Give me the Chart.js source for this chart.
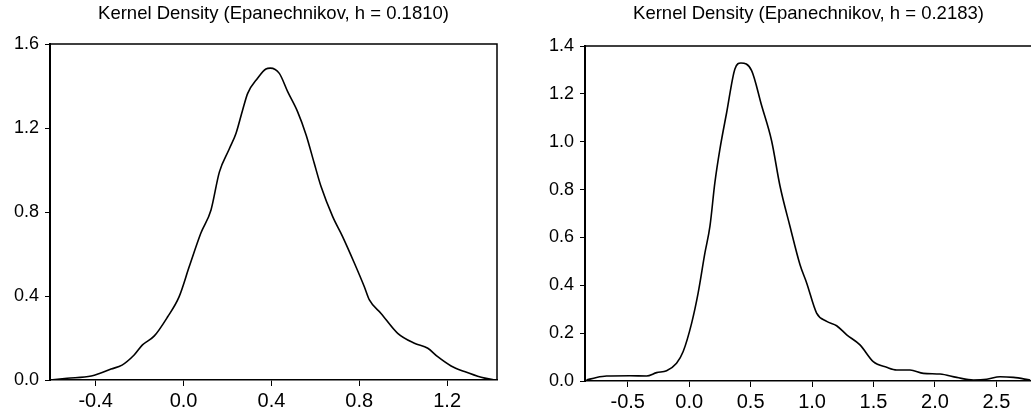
<!DOCTYPE html>
<html>
<head>
<meta charset="utf-8">
<script src="https://cdn.jsdelivr.net/npm/chart.js@4.4.1/dist/chart.umd.min.js"></script>
<style>
  html, body { margin: 0; padding: 0; background: #fff; overflow: hidden; }
  #wrap { position: relative; width: 1031px; height: 415px; overflow: hidden; background: #fff; }
  canvas { position: absolute; top: 0; }
  #c1 { left: 0px; }
  #c2 { left: 535px; }
</style>
</head>
<body>
<div id="wrap">
  <canvas id="c1" width="515" height="415"></canvas>
  <canvas id="c2" width="515" height="415"></canvas>
</div>
<script>
// ---- Left panel data ----
const leftTitle = "Kernel Density (Epanechnikov, h = 0.1810)";
const leftX = [-0.61,-0.53,-0.42,-0.38,-0.33,-0.28,-0.225,-0.187,-0.133,-0.073,-0.02,0.026,0.079,0.125,0.163,0.208,0.239,0.269,0.292,0.337,0.375,0.395,0.436,0.474,0.519,0.558,0.595,0.626,0.679,0.724,0.778,0.823,0.846,0.899,0.975,1.051,1.112,1.157,1.218,1.279,1.355,1.415];
const leftY = [0,0.008,0.019,0.032,0.052,0.071,0.119,0.167,0.21,0.30,0.397,0.54,0.70,0.81,0.99,1.10,1.175,1.286,1.365,1.437,1.481,1.485,1.46,1.373,1.278,1.167,1.032,0.921,0.778,0.683,0.556,0.444,0.381,0.317,0.222,0.175,0.151,0.111,0.067,0.040,0.013,0.0];
const leftXTicks = [-0.4, 0.0, 0.4, 0.8, 1.2];
const leftYTicks = [0.0, 0.4, 0.8, 1.2, 1.6];

// ---- Right panel data ----
const rightTitle = "Kernel Density (Epanechnikov, h = 0.2183)";
const rightX = [-0.836,-0.754,-0.673,-0.483,-0.347,-0.265,-0.184,-0.103,-0.049,0.02,0.073,0.128,0.169,0.209,0.25,0.305,0.372,0.421,0.508,0.59,0.671,0.739,0.82,0.902,0.956,1.037,1.119,1.2,1.282,1.39,1.498,1.607,1.689,1.797,1.906,2.042,2.177,2.313,2.422,2.53,2.639,2.775];
const rightY = [0.004,0.015,0.021,0.022,0.021,0.035,0.043,0.074,0.123,0.242,0.368,0.535,0.647,0.829,0.969,1.122,1.304,1.329,1.297,1.150,1.003,0.815,0.647,0.486,0.41,0.284,0.249,0.231,0.193,0.151,0.081,0.057,0.046,0.046,0.032,0.029,0.015,0.004,0.007,0.018,0.015,0.004];
const rightXTicks = [-0.5, 0.0, 0.5, 1.0, 1.5, 2.0, 2.5];
const rightYTicks = [0.0, 0.2, 0.4, 0.6, 0.8, 1.0, 1.2, 1.4];

const FONT = "'Liberation Sans', Arial, sans-serif";

const framePlugin = {
  id: 'frame',
  afterDraw(chart) {
    const a = chart.chartArea, ctx = chart.ctx;
    ctx.save();
    ctx.strokeStyle = '#000';
    ctx.lineWidth = 1.5;
    ctx.beginPath();
    ctx.moveTo(a.left, a.top);
    ctx.lineTo(a.right, a.top);
    ctx.lineTo(a.right, a.bottom);
    ctx.stroke();
    ctx.restore();
  }
};

function makeChart(id, title, xs, ys, xTicks, yTicks, xMin, xMax, yMax, titleBottom, xAxisH) {
  const pts = xs.map((x, i) => ({ x: x, y: ys[i] }));
  return new Chart(document.getElementById(id), {
    type: 'line',
    data: {
      datasets: [{
        data: pts,
        borderColor: '#000',
        borderWidth: 1.6,
        pointRadius: 0,
        fill: false,
        cubicInterpolationMode: 'monotone'
      }]
    },
    options: {
      responsive: false,
      animation: false,
      devicePixelRatio: 1,
      layout: { padding: { left: 0, right: 18, top: 0, bottom: 0 } },
      plugins: {
        legend: { display: false },
        tooltip: { enabled: false },
        title: {
          display: true,
          text: title,
          fullSize: false,
          color: '#000',
          font: { family: FONT, size: 18.5, weight: 'normal', lineHeight: 1.2 },
          padding: { top: 3, bottom: titleBottom }
        }
      },
      scales: {
        x: {
          type: 'linear',
          min: xMin, max: xMax,
          afterBuildTicks: (s) => { s.ticks = xTicks.map(v => ({ value: v })); },
          afterFit: (s) => { s.height = xAxisH; },
          grid: { display: true, drawOnChartArea: false, drawTicks: true, tickLength: 6, color: '#000', lineWidth: 1 },
          border: { display: true, color: '#000', width: 1.5 },
          ticks: {
            color: '#000',
            padding: 3,
            maxRotation: 0,
            autoSkip: false,
            font: { family: FONT, size: 20 },
            callback: (v) => Number(v).toFixed(1)
          }
        },
        y: {
          type: 'linear',
          min: 0, max: yMax,
          afterBuildTicks: (s) => { s.ticks = yTicks.map(v => ({ value: v })); },
          afterFit: (s) => { s.width = 50; },
          grid: { display: true, drawOnChartArea: false, drawTicks: true, tickLength: 5, color: '#000', lineWidth: 1 },
          border: { display: true, color: '#000', width: 2 },
          ticks: {
            color: '#000',
            padding: 6,
            autoSkip: false,
            font: { family: FONT, size: 18 },
            callback: (v) => Number(v).toFixed(1)
          }
        }
      }
    },
    plugins: [framePlugin]
  });
}

makeChart('c1', leftTitle, leftX, leftY, leftXTicks, leftYTicks, -0.608, 1.427, 1.6, 18.8, 35);
makeChart('c2', rightTitle, rightX, rightY, rightXTicks, rightYTicks, -0.848, 2.79, 1.4, 20.8, 34);
</script>
</body>
</html>
